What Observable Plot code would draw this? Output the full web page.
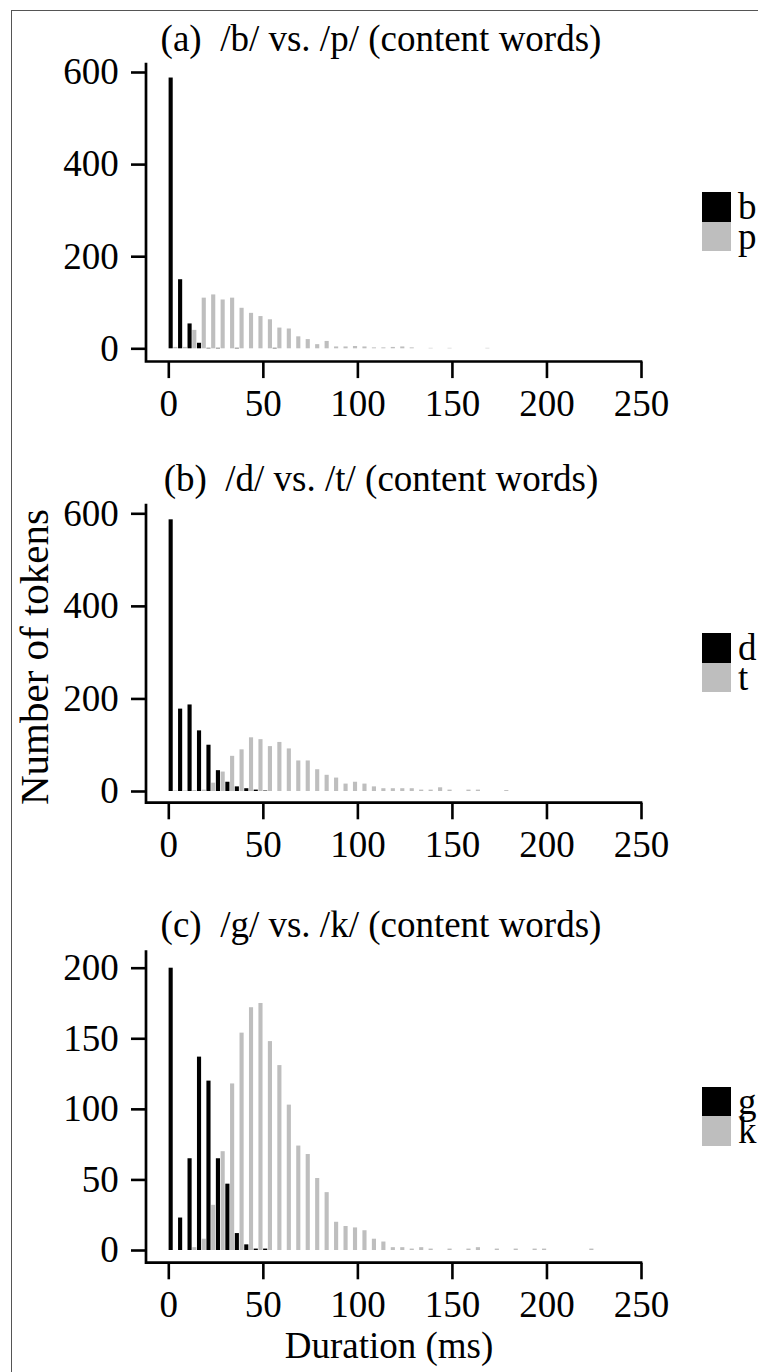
<!DOCTYPE html>
<html>
<head>
<meta charset="utf-8">
<script src="https://cdn.jsdelivr.net/npm/d3@7"></script>
<script src="https://cdn.jsdelivr.net/npm/@observablehq/plot@0.6"></script>
<style>
  html, body { margin: 0; padding: 0; background: #ffffff; }
  #fig { position: relative; width: 758px; height: 1372px; overflow: hidden; background: #fff;
         font-family: "Liberation Serif", "Times New Roman", serif; color: #000; }
  .abs { position: absolute; white-space: pre; line-height: 37px; font-size: 37px; }
  .leg { position: absolute; white-space: pre; line-height: 29px; font-size: 37px; }
  .sw { position: absolute; }
  svg { overflow: visible; }
</style>
</head>
<body>
<div id="fig"></div>
<script>
// ---------------- data ----------------
const binMs = 5;                       // histogram bin width (ms)
const xTicks = [0, 50, 100, 150, 200, 250];
const xDomain = [0, 250];
const yTicksAB = [0, 200, 400, 600];
const yTicksC = [0, 50, 100, 150, 200];
const yLabel = "Number of tokens";
const xLabel = "Duration (ms)";
const seriesColors = ["#000000", "#bebebe"];

const titleA = "(a)  /b/ vs. /p/ (content words)";
const titleB = "(b)  /d/ vs. /t/ (content words)";
const titleC = "(c)  /g/ vs. /k/ (content words)";
const seriesA = ["b", "p"];
const seriesB = ["d", "t"];
const seriesC = ["g", "k"];

// counts per 5-ms bin, starting at 0 ms
const countsB = [588, 150, 54, 12, 1, 1, 0, 1, 0, 0, 0, 1];
const countsP = [3, 3, 40, 110, 117, 106, 110, 88, 77, 70, 63, 45, 43, 26, 20, 9, 16, 4, 4, 5,
                 4, 2, 2, 3, 4, 2, 0, 1, 0, 1, 0, 0, 0, 1];
const countsD = [587, 178, 187, 131, 100, 45, 20, 10, 6, 3, 1];
const countsT = [1, 1, 2, 3, 18, 42, 76, 90, 116, 112, 97, 106, 92, 66, 66, 47, 35, 29, 16, 20,
                 16, 10, 6, 6, 6, 6, 3, 3, 8, 3, 0, 3, 3, 0, 0, 2];
const countsG = [200, 23, 65, 137, 120, 65, 47, 12, 4, 1, 1];
const countsK = [0, 0, 2, 8, 32, 70, 118, 154, 172, 175, 148, 131, 103, 74, 68, 51, 41, 20, 17, 16,
                 14, 8, 6, 2, 2, 1, 2, 1, 0, 1, 0, 1, 2, 0, 1, 0, 1, 0, 1, 1, 0, 0, 0, 0, 1];

// ---------------- layout ----------------
const W = 758;
const panels = [
  { title: titleA, series: seriesA, counts: [countsB, countsP], yMax: 600, yTicks: yTicksAB,
    svgTop: 0, height: 420, mt: 64, mb: 58.5, insetTop: 8, insetBottom: 13.2, titleBase: 50.5 },
  { title: titleB, series: seriesB, counts: [countsD, countsT], yMax: 600, yTicks: yTicksAB,
    svgTop: 440, height: 420, mt: 65, mb: 57.3, insetTop: 8.3, insetBottom: 11.7, titleBase: 491 },
  { title: titleC, series: seriesC, counts: [countsG, countsK], yMax: 200, yTicks: yTicksC,
    svgTop: 890, height: 430, mt: 61.7, mb: 57.3, insetTop: 16, insetBottom: 12.7, titleBase: 937 }
];
const ML = 146, MR = 117, X_INSET = 22.3;
const fig = document.getElementById("fig");

function addText(txt, left, top, extra, cls) {
  const d = document.createElement("div");
  d.className = cls || "abs";
  d.textContent = txt;
  d.style.left = left + "px";
  d.style.top = top + "px";
  if (extra) Object.assign(d.style, extra);
  fig.appendChild(d);
  return d;
}

// border of the figure
const border = document.createElement("div");
Object.assign(border.style, { position: "absolute", left: "11px", top: "10px", width: "800px", height: "1400px",
  border: "1.5px solid #555", boxSizing: "border-box" });
fig.appendChild(border);

panels.forEach((p) => {
  const rows = [];
  p.counts.forEach((arr, j) => arr.forEach((c, i) => {
    if (c > 0) rows.push({ start: i * binMs, count: c, j, name: p.series[j] });
  }));

  const plot = Plot.plot({
    width: W, height: p.height,
    marginLeft: ML, marginRight: MR, marginTop: p.mt, marginBottom: p.mb,
    x: { domain: xDomain, insetLeft: X_INSET },
    y: { domain: [0, p.yMax], insetTop: p.insetTop, insetBottom: p.insetBottom },
    style: { fontFamily: "'Liberation Serif', 'Times New Roman', serif", fontSize: "37px",
             background: "transparent", overflow: "visible", color: "#000" },
    marks: [
      Plot.rectY(rows, {
        x1: d => d.start + d.j * binMs / 2,
        x2: d => d.start + (d.j + 1) * binMs / 2,
        y: "count",
        fill: d => seriesColors[d.j],
        insetLeft: 0.3, insetRight: 0.3
      }),
      Plot.axisX({ ticks: xTicks, tickSize: 16.6, tickPadding: 11, strokeWidth: 2.6,
                   fontSize: 37, label: null }),
      Plot.axisY({ ticks: p.yTicks, tickSize: 15, tickPadding: 12.7, strokeWidth: 2.6,
                   fontSize: 37, label: null })
    ]
  });
  plot.style.position = "absolute";
  plot.style.left = "0px";
  plot.style.top = p.svgTop + "px";
  fig.appendChild(plot);

  // L-shaped axis frame (left + bottom), from the plot's margins
  const x0 = ML, y0 = p.mt, y1 = p.height - p.mb, x1 = W - MR;
  d3.select(plot).append("path")
    .attr("d", `M${x0},${y0}V${y1}H${x1}`)
    .attr("fill", "none").attr("stroke", "#000").attr("stroke-width", 2.7)
    .attr("stroke-linecap", "square");

  // title
  addText(p.title, 381, p.titleBase - 31, { transform: "translateX(-50%)" });

  // legend
  const frameMid = p.svgTop + (p.mt + (p.height - p.mb)) / 2;
  const legTop = frameMid + 9 - 29.4;
  p.series.forEach((s, j) => {
    const sw = document.createElement("div");
    sw.className = "sw";
    Object.assign(sw.style, { left: "702px", top: (legTop + j * 29.4) + "px", width: "28.5px",
      height: "29.4px", background: seriesColors[j] });
    fig.appendChild(sw);
    // line-height 29px: baseline sits 27px below the box top
    addText(s, 738, legTop + (j + 1) * 29.4 - 2.5 - 27, null, "leg");
  });
});

// axis titles
addText(yLabel, 33.5, 657, { transform: "translate(-50%, -50%) rotate(-90deg)", fontSize: "41px", lineHeight: "41px" });
addText(xLabel, 389, 1358 - 31, { transform: "translateX(-50%)" });
</script>
</body>
</html>
